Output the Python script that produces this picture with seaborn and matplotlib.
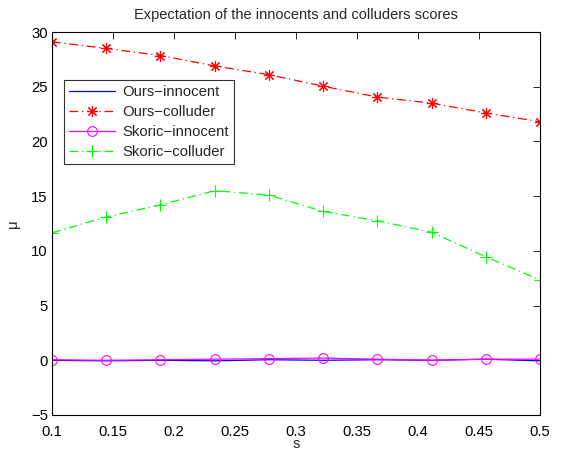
import numpy as np
import pandas as pd
import seaborn as sns
import matplotlib
matplotlib.use("Agg")
import matplotlib.pyplot as plt

# s values (10 points between 0.1 and 0.5)
s_vals = [0.1, 0.1444, 0.1889, 0.2333, 0.2778, 0.3222, 0.3667, 0.4111, 0.4556, 0.5]

ours_innocent = [0.0, -0.05, 0.0, -0.05, 0.05, 0.0, 0.05, 0.0, 0.1, -0.05]
ours_colluder = [29.1, 28.5, 27.85, 26.9, 26.1, 25.05, 24.05, 23.5, 22.6, 21.8]
skoric_innocent = [0.05, 0.0, 0.05, 0.1, 0.15, 0.2, 0.1, 0.0, 0.1, 0.1]
skoric_colluder = [11.65, 13.1, 14.2, 15.5, 15.1, 13.6, 12.75, 11.7, 9.45, 7.35]

series_names = ["Ours\u2212innocent", "Ours\u2212colluder", "Skoric\u2212innocent", "Skoric\u2212colluder"]
xtick_labels = ["0.1", "0.15", "0.2", "0.25", "0.3", "0.35", "0.4", "0.45", "0.5"]

sns.set_theme(style="white")
plt.rcParams['font.family'] = ['Liberation Sans', 'DejaVu Sans']

fig = plt.figure(figsize=(5.63, 4.5), dpi=100)
ax = fig.add_axes([52 / 563, 35 / 450, 488 / 563, 383 / 450])

dashdot = (7, 3, 1, 3)
styles = [
    dict(color="#0000ff", dashed=False, marker=None, ms=0),
    dict(color="#ff0000", dashed=True, marker=(8, 2, 0), ms=8),
    dict(color="#ff00ff", dashed=False, marker="o", ms=7),
    dict(color="#00ff00", dashed=True, marker="+", ms=8),
]
handles = []
for name, vals, st in zip(series_names,
                          [ours_innocent, ours_colluder, skoric_innocent, skoric_colluder],
                          styles):
    df = pd.DataFrame({"s": s_vals, "mu": vals})
    line_kw = dict(color=st["color"], linewidth=0.9, ax=ax)
    if st["marker"] is not None:
        line_kw.update(marker=st["marker"], markersize=st["ms"], markerfacecolor="none",
                       markeredgecolor=st["color"], markeredgewidth=0.8)
    sns.lineplot(data=df, x="s", y="mu", **line_kw)
    ln = ax.lines[-1]
    ln.set_color(st["color"])
    if st["dashed"]:
        ln.set_dashes(dashdot)
    handles.append(ln)

ax.set_xlim(0.1, 0.5)
ax.set_ylim(-5, 30)
ax.set_xticks(np.arange(0.1, 0.5001, 0.05))
ax.set_xticklabels(xtick_labels)
ax.set_yticks(np.arange(-5, 31, 5))
ax.tick_params(direction="in", top=True, right=True, length=5, width=0.6,
               labelsize=10.7, colors="black")
ax.tick_params(axis="x", pad=7)
ax.tick_params(axis="y", pad=3)
for sp in ax.spines.values():
    sp.set_color("black")
    sp.set_linewidth(0.8)

ax.set_title("Expectation of the innocents and colluders scores", fontsize=10.5, pad=9)
ax.set_xlabel("s", fontsize=10.7, labelpad=-1)
ax.set_ylabel("\u03bc", fontsize=10.7, labelpad=8)

leg = ax.legend(handles, series_names, loc="upper left",
                bbox_to_anchor=(12 / 488, 1 - 48 / 383),
                fontsize=10.7, handlelength=3.1, borderpad=0.35, labelspacing=0.4,
                handletextpad=0.45, frameon=True, fancybox=False, borderaxespad=0)
leg.get_frame().set_edgecolor("black")
leg.get_frame().set_linewidth(0.8)

fig.savefig("out.png", dpi=100)
